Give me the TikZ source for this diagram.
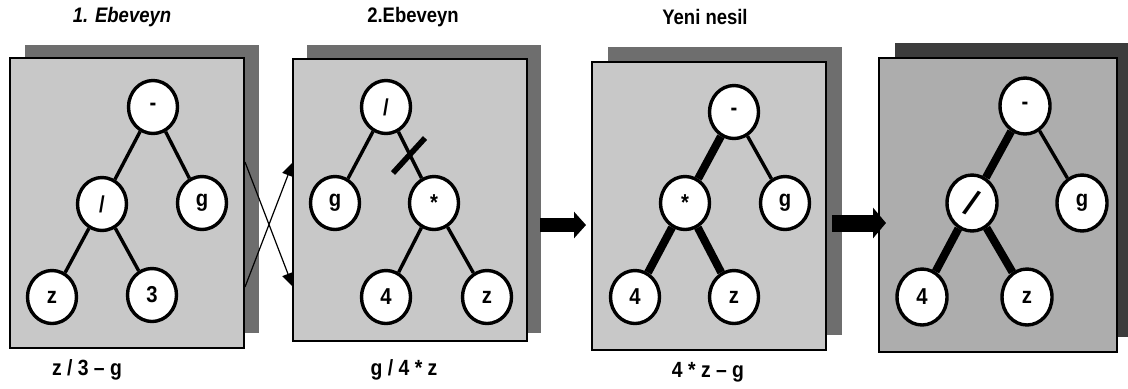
\documentclass[tikz,border=0pt]{standalone}
\usepackage{fontspec}
\setmainfont{Liberation Sans}
\newfontfamily\nf{Liberation Sans}[FakeStretch=0.88,Ligatures=TeX]
\usetikzlibrary{shapes.geometric,arrows.meta}
\definecolor{panel}{HTML}{C8C8C8}
\definecolor{paneldark}{HTML}{ADADAD}
\definecolor{shade}{HTML}{6E6E6E}
\definecolor{shadedark}{HTML}{3C3C3C}
\begin{document}
\begin{tikzpicture}[x=0.5pt,y=-0.5pt,
  front/.style={draw=black,line width=1pt,fill=panel,minimum width=117pt,minimum height=145pt,inner sep=0pt,outer sep=0pt},
  back/.style={fill=shade,minimum width=117pt,minimum height=144pt,inner sep=0pt,outer sep=0pt},
  tn/.style={ellipse,draw,line width=1.7pt,fill=white,minimum width=24.5pt,minimum height=26.5pt,inner sep=0pt,font=\nf\bfseries\fontsize{11.5}{11.5}\selectfont},
  ed/.style={line width=1.7pt},
  hot/.style={line width=4pt},
  title/.style={font=\nf\bfseries\fontsize{10.5}{12}\selectfont},
  expr/.style={font=\nf\bfseries\fontsize{11}{12}\selectfont},
  cross/.style={line width=0.6pt,-{Triangle[length=7pt,width=6pt]}},
  blockarrow/.style={line width=7pt,-{Triangle[length=6pt,width=13pt]}},
]
\useasboundingbox (0,0) rectangle (1128,388);

% panel 1
\node[back] (s1) at (142,189) {};
\node[front] (p1) at (127,203) {};
% panel 2
\node[back] (s2) at (424,189) {};
\node[front,minimum height=141pt] (p2) at (409.5,199.5) {};
% panel 3
\node[back] (s3) at (724.5,191) {};
\node[front,minimum height=144pt] (p3) at (709,206) {};
% panel 4
\node[back,fill=shadedark,minimum width=116.5pt,minimum height=147pt] (s4) at (1011.5,190) {};
\node[front,fill=paneldark,minimum width=119pt,minimum height=147pt] (p4) at (998,205) {};

% titles and expressions
\node[title,font=\nf\bfseries\itshape\fontsize{10.5}{12}\selectfont] (t1) at (122,17) {1. Ebeveyn};
\node[title] (t2) at (413,17) {2.Ebeveyn};
\node[title] (t3) at (705,17) {Yeni nesil};
\node[expr] (e1) at (87,370) {z / 3 – g};
\node[expr] (e2) at (404,370) {g / 4 * z};
\node[expr] (e3) at (708,372) {4 * z – g};

% tree 1
\node[tn] (r1) at (153,107) {-};
\node[tn] (a1) at (102,204) {/};
\node[tn] (b1) at (202,203) {g};
\node[tn] (c1) at (52,297) {z};
\node[tn] (d1) at (152,295) {3};
\draw[ed] (r1) -- (a1);
\draw[ed] (r1) -- (b1);
\draw[ed] (a1) -- (c1);
\draw[ed] (a1) -- (d1);

% tree 2
\node[tn] (r2) at (386,107) {/};
\node[tn] (a2) at (335,203) {g};
\node[tn] (b2) at (434,203) {*};
\node[tn] (c2) at (386,297) {4};
\node[tn] (d2) at (487,297) {z};
\draw[ed] (r2) -- (a2);
\draw[ed] (r2) -- (b2);
\draw[ed] (b2) -- (c2);
\draw[ed] (b2) -- (d2);
\coordinate (cutA) at (393,173);
\coordinate (cutB) at (425,138);
\draw[line width=2.8pt] (cutA) -- (cutB);

% tree 3
\node[tn] (r3) at (734,112) {-};
\node[tn] (a3) at (685,203) {*};
\node[tn] (b3) at (785,203) {g};
\node[tn] (c3) at (635,297) {4};
\node[tn] (d3) at (734,297) {z};
\draw[hot] (r3) -- (a3);
\draw[ed] (r3) -- (b3);
\draw[hot] (a3) -- (c3);
\draw[hot] (a3) -- (d3);

% tree 4
\begin{scope}[tn/.append style={minimum width=25pt,minimum height=28pt}]
\node[tn] (r4) at (1025,106) {-};
\node[tn] (a4) at (972,203) {\rotatebox{-26}{\fontsize{18}{18}\selectfont\bfseries /}};
\node[tn] (b4) at (1082,203) {g};
\node[tn] (c4) at (922,297) {4};
\node[tn] (d4) at (1027,297) {z};
\end{scope}
\draw[hot] (r4) -- (a4);
\draw[ed] (r4) -- (b4);
\draw[hot] (a4) -- (c4);
\draw[hot] (a4) -- (d4);

% crossing arrows
\coordinate (x1s) at (245,162);
\coordinate (x1e) at (293,287);
\coordinate (x2s) at (245,287);
\coordinate (x2e) at (293,162);
\draw[cross] (x1s) -- (x1e);
\draw[cross] (x2s) -- (x2e);

% block arrows
\coordinate (b1s) at (540,225);
\coordinate (b1e) at (586,225);
\draw[blockarrow] (b1s) -- (b1e);
\coordinate (b2s) at (832,223);
\coordinate (b2e) at (886,223);
\draw[blockarrow,line width=8.5pt,-{Triangle[length=6.5pt,width=15pt]}] (b2s) -- (b2e);
\end{tikzpicture}
\end{document}
